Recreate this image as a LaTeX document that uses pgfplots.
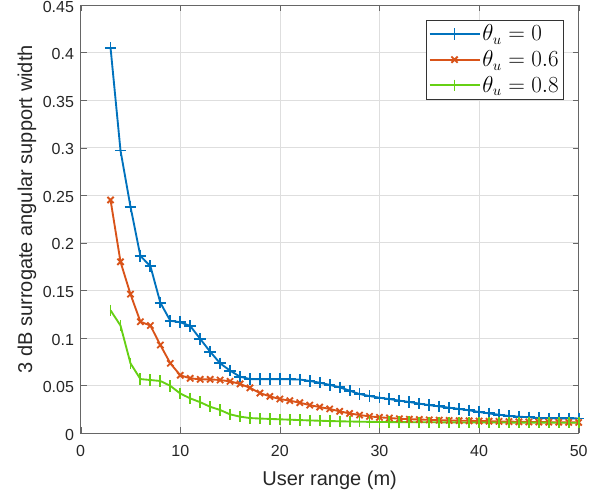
\documentclass[border=0pt]{standalone}
\usepackage{pgfplots}
\pgfplotsset{compat=1.18}
\usepackage{fontspec}
\setmainfont{Liberation Sans}
\definecolor{mblue}{rgb}{0,0.447,0.741}
\definecolor{morange}{rgb}{0.85,0.325,0.098}
\definecolor{mgreen}{RGB}{102,208,20}
\begin{document}
\begin{tikzpicture}
\useasboundingbox (-60.5pt,-45.2pt) rectangle (391pt,324.75pt);
\begin{axis}[
  at={(0,0)}, anchor=south west,
  scale only axis,
  width=373.5pt, height=321pt,
  xmin=0, xmax=50, ymin=0, ymax=0.45,
  xtick={0,10,20,30,40,50},
  ytick={0,0.05,0.1,0.15,0.2,0.25,0.3,0.35,0.4,0.45},
  yticklabels={0,0.05,0.1,0.15,0.2,0.25,0.3,0.35,0.4,0.45},
  /pgf/number format/assume math mode=true,
  tick label style={font=\fontsize{12}{14}\selectfont, color=black!85},
  yticklabel style={xshift=-1.5pt, yshift=-1.2pt},
  xticklabel style={yshift=-6pt},
  xlabel={User range (m)},
  ylabel={3 dB surrogate angular support width},
  every axis x label/.style={at={(axis description cs:0.5,-0.122)}, anchor=base, font=\fontsize{15}{17}\selectfont, color=black!85},
  every axis y label/.style={at={(axis description cs:-0.0977,0.523)}, anchor=base, rotate=90, font=\fontsize{15}{17}\selectfont, color=black!85},
  tick align=inside,
  major tick length=4.5pt,
  grid=major,
  major grid style={black!13, line width=0.5pt},
  axis line style={black!60, line width=0.6pt},
  tick style={black!60},
  legend style={at={(0.97,0.965)}, anchor=north east, font=\fontsize{16}{18}\selectfont,
    draw=black!80, row sep=2.8pt, inner xsep=2pt, inner ysep=2pt, nodes={inner sep=1.5pt}},
  legend cell align=left,
  legend image code/.code={\draw[#1] (0pt,0pt) -- (37.5pt,0pt); \draw[#1, only marks] plot coordinates {(18.75pt,0pt)};},
]
\addplot[color=mblue, line width=1.4pt, mark=+, mark size=4.3pt, mark options={line width=1.4pt}] table {
x y
3 0.405
4 0.297
5 0.238
6 0.186
7 0.1755
8 0.137
9 0.118
10 0.1165
11 0.1125
12 0.099
13 0.0855
14 0.0733
15 0.0656
16 0.0592
17 0.0567
18 0.0567
19 0.0567
20 0.0567
21 0.0565
22 0.0562
23 0.0547
24 0.0529
25 0.0506
26 0.048
27 0.0445
28 0.041
29 0.0389
30 0.0371
31 0.0357
32 0.034
33 0.0326
34 0.0309
35 0.0293
36 0.028
37 0.0266
38 0.0253
39 0.0239
40 0.0221
41 0.0206
42 0.0192
43 0.0179
44 0.0172
45 0.0165
46 0.0157
47 0.0155
48 0.0154
49 0.0154
50 0.0153
};
\addlegendentry{$\theta_u = 0$}
\addplot[color=morange, line width=1.4pt, mark=x, mark size=3.3pt, mark options={line width=1.4pt}] table {
x y
3 0.245
4 0.18
5 0.146
6 0.117
7 0.113
8 0.0925
9 0.0733
10 0.0607
11 0.0575
12 0.0564
13 0.0564
14 0.0557
15 0.0543
16 0.0516
17 0.0475
18 0.042
19 0.0385
20 0.0357
21 0.034
22 0.0319
23 0.0293
24 0.0273
25 0.0253
26 0.0228
27 0.0206
28 0.0189
29 0.0175
30 0.0165
31 0.0158
32 0.015
33 0.0145
34 0.0142
35 0.0138
36 0.0135
37 0.0132
38 0.013
39 0.0128
40 0.0126
41 0.0124
42 0.0122
43 0.012
44 0.0118
45 0.0116
46 0.0115
47 0.0114
48 0.0113
49 0.0112
50 0.0111
};
\addlegendentry{$\theta_u = 0.6$}
\addplot[color=mgreen, line width=1.4pt, mark=|, mark size=4.3pt, mark options={line width=1.4pt}] table {
x y
3 0.129
4 0.113
5 0.0733
6 0.0567
7 0.0557
8 0.0547
9 0.0496
10 0.0415
11 0.0364
12 0.0324
13 0.0276
14 0.0242
15 0.0196
16 0.0172
17 0.0157
18 0.0152
19 0.0148
20 0.0144
21 0.014
22 0.0136
23 0.0132
24 0.0129
25 0.0126
26 0.0123
27 0.0121
28 0.0119
29 0.0117
30 0.0116
31 0.0115
32 0.0114
33 0.0114
34 0.0113
35 0.0113
36 0.0112
37 0.0112
38 0.0111
39 0.0111
40 0.0111
41 0.011
42 0.011
43 0.011
44 0.0109
45 0.0109
46 0.0109
47 0.0109
48 0.0108
49 0.0108
50 0.0108
};
\addlegendentry{$\theta_u = 0.8$}
\end{axis}
\end{tikzpicture}
\end{document}
